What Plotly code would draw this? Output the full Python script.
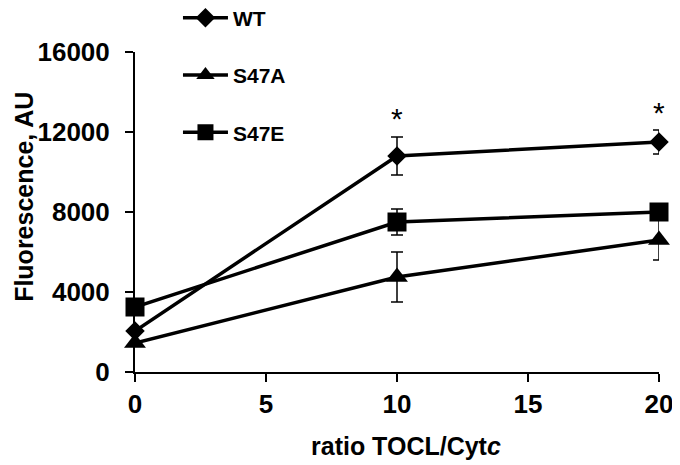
import plotly.graph_objects as go

ratio = [0, 10, 20]
wt = [2050, 10800, 11500]
wt_err = [0, 950, 600]
s47a = [1450, 4750, 6600]
s47a_err = [0, 1250, 1000]
s47e = [3250, 7500, 8000]
s47e_err = [0, 650, 300]
names = ["WT", "S47A", "S47E"]
symbols = ["diamond", "triangle-up", "square"]
sizes = [15, 19, 19]
star_x = [10, 20]
star_y = [12700, 13000]
xticks = [0, 5, 10, 15, 20]
yticks = [0, 4000, 8000, 12000, 16000]

fig = go.Figure()
for i, (nm, ys, es) in enumerate(zip(names, [wt, s47a, s47e], [wt_err, s47a_err, s47e_err])):
    fig.add_trace(go.Scatter(
        x=ratio, y=ys, name=nm, mode="lines+markers",
        line=dict(color="black", width=3.5),
        marker=dict(symbol=symbols[i], size=sizes[i], color="black"),
        error_y=dict(type="data", array=es, visible=True, color="black", thickness=1.5, width=6),
        cliponaxis=False, legendgroup=nm,
    ))

for sx, sy in zip(star_x, star_y):
    fig.add_annotation(x=sx, y=sy, text="*", showarrow=False,
                       font=dict(size=30, color="black", family="Liberation Sans"))

tickf = dict(size=26, family="Liberation Sans", color="black", weight="bold")
titf = dict(size=25, family="Liberation Sans", color="black", weight="bold")

fig.add_annotation(xref="paper", yref="paper", x=-0.212, y=0.547, text="Fluorescence, AU",
                   textangle=-90, showarrow=False, font=titf, xanchor="center", yanchor="middle")
fig.add_annotation(xref="paper", yref="paper", x=0.517, y=-0.231, text="ratio TOCL/Cyt<i>c</i>",
                   showarrow=False, font=titf, xanchor="center", yanchor="middle")

fig.update_layout(
    width=680, height=465,
    margin=dict(l=127, r=29, t=44, b=101, autoexpand=False),
    plot_bgcolor="white", paper_bgcolor="white",
    font=dict(family="Liberation Sans", color="black"),
    showlegend=True,
    legend=dict(x=0.082, y=1.17, xanchor="left", yanchor="top",
                font=dict(size=21, family="Liberation Sans", color="black", weight="bold"),
                tracegroupgap=27, bgcolor="rgba(0,0,0,0)", itemwidth=45),
    xaxis=dict(range=[0, 20], tickvals=xticks, ticktext=[str(v) for v in xticks],
               showgrid=False, zeroline=False, automargin=False,
               showline=True, linecolor="black", linewidth=2, ticks="outside", ticklen=8,
               tickwidth=2, tickcolor="black", tickfont=tickf, ticklabelstandoff=0),
    yaxis=dict(range=[0, 16000], tickvals=yticks, ticktext=[str(v) for v in yticks],
               showgrid=False, zeroline=False, automargin=False,
               showline=True, linecolor="black", linewidth=2, ticks="outside", ticklen=8,
               tickwidth=2, tickcolor="black", tickfont=tickf, ticklabelstandoff=10),
)
fig.write_html("out.html")
